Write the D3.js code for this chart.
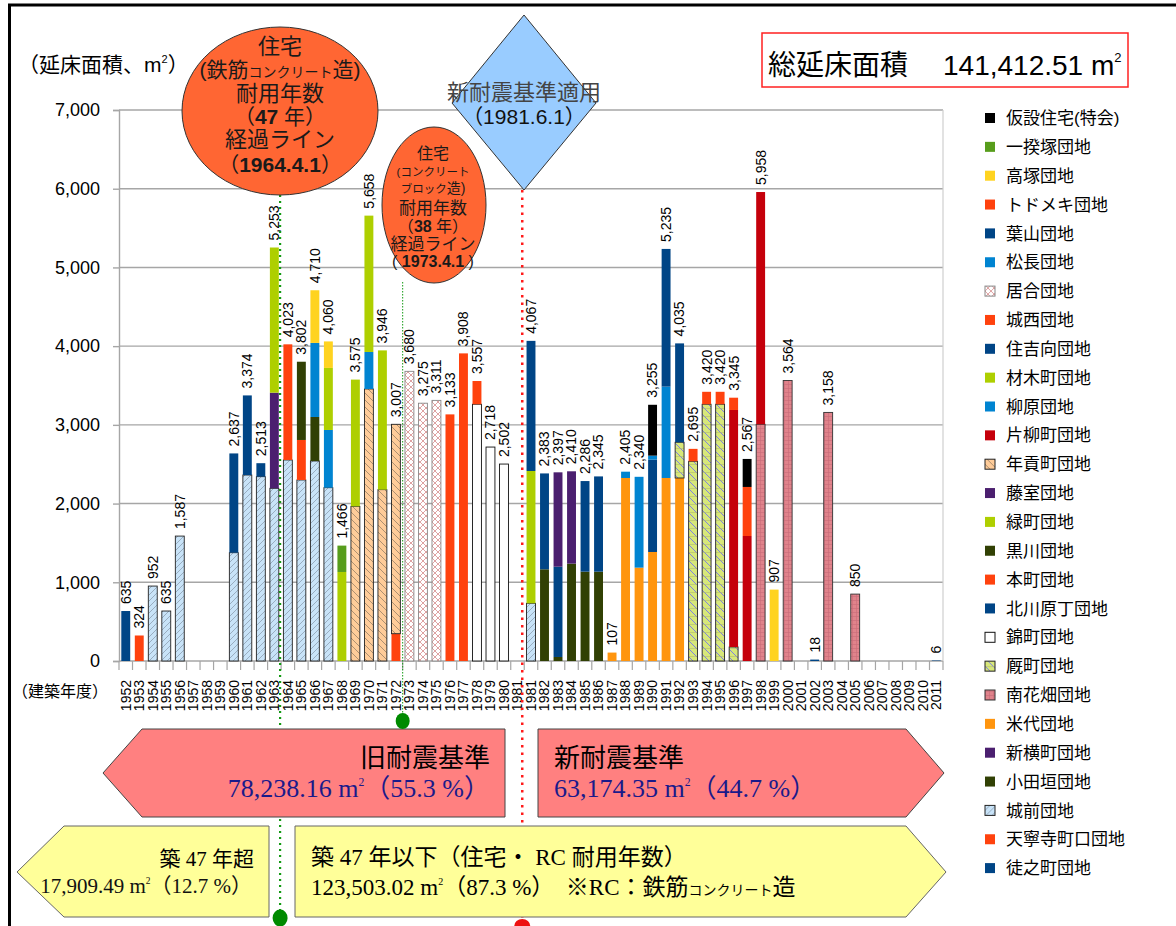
<!DOCTYPE html>
<html>
<head>
<meta charset="utf-8">
<script src="https://cdn.jsdelivr.net/npm/d3@7"></script>
<style>
body { margin: 0; background: #fff; }
svg { display: block; }
text { font-family: "Liberation Sans", "Noto Sans CJK JP", sans-serif; }
.serif { font-family: "Liberation Serif", "Noto Sans CJK JP", serif; }
</style>
</head>
<body>
<div id="chart"></div>
<script>
// categories: 1981 appears twice (before / after 1981.6.1)
var categories = ["1952","1953","1954","1955","1956","1957","1958","1959","1960","1961",
  "1962","1963","1964","1965","1966","1967","1968","1969","1970","1971",
  "1972","1973","1974","1975","1976","1977","1978","1979","1980","1981",
  "1981新","1982","1983","1984","1985","1986","1987","1988","1989","1990",
  "1991","1992","1993","1994","1995","1996","1997","1998","1999","2000",
  "2001","2002","2003","2004","2005","2006","2007","2008","2009","2010","2011"];

var yTicks = [0, 1000, 2000, 3000, 4000, 5000, 6000, 7000];

// each series: [category, 延床面積]
var tonomachi = [["1952", 635]];
var tenneiji = [["1953", 324]];
var jozen = [["1954", 952], ["1955", 635], ["1956", 1587], ["1960", 1376], ["1961", 2363], ["1962", 2342],
  ["1963", 2194], ["1964", 2554], ["1965", 2300], ["1966", 2541], ["1967", 2202], ["1981新", 733]];
var odagaki = [["1982", 1165], ["1983", 51], ["1984", 1237], ["1985", 1135], ["1986", 1135]];
var shinyoko = [["1963", 1215]];
var yoneshiro = [["1987", 107], ["1988", 2325], ["1989", 1186], ["1990", 1385], ["1991", 2325], ["1992", 2325]];
var minamihanabatake = [["1998", 3007], ["2000", 3564], ["2003", 3158], ["2005", 850]];
var umaya = [["1992", 454], ["1993", 2537], ["1994", 3262], ["1995", 3262], ["1996", 178]];
var nishiki = [["1978", 3262], ["1979", 2718], ["1980", 2502]];
var kitakawara = [["1960", 1261], ["1961", 1011], ["1962", 171], ["1982", 1218], ["1983", 1147], ["1985", 1151], ["1986", 1210]];
var honmachi = [["1964", 1469], ["1965", 508], ["1972", 347]];
var kurokawa = [["1965", 994], ["1966", 559]];
var midori = [["1963", 1844], ["1981新", 1681]];
var fujimuro = [["1983", 1199], ["1984", 1173]];
var nengu = [["1969", 1965], ["1970", 3456], ["1971", 2177], ["1972", 2660]];
var katayanagi = [["1996", 3011], ["1997", 1588], ["1998", 2951]];
var yanagihara = [["1966", 941], ["1967", 733], ["1970", 470]];
var zaimoku = [["1967", 788], ["1968", 1131], ["1969", 1610], ["1970", 1732], ["1971", 1769]];
var sumiyoshi = [["1981新", 1653], ["1990", 1173]];
var josai = [["1976", 3133], ["1977", 3908], ["1978", 295]];
var iai = [["1973", 3680], ["1974", 3275], ["1975", 3311]];
var matsunaga = [["1988", 80], ["1989", 1154], ["1990", 51], ["1991", 1161]];
var hayama = [["1991", 1749], ["1992", 1256], ["2002", 18], ["2011", 6]];
var todomeki = [["1993", 158], ["1994", 158], ["1995", 158], ["1996", 156], ["1997", 623]];
var takatsuka = [["1966", 669], ["1967", 337], ["1999", 907]];
var ikkizuka = [["1968", 335]];
var kasetsu = [["1990", 646], ["1997", 356]];

// stacking order, bottom first
var seriesNames = ["徒之町団地","天寧寺町口団地","城前団地","小田垣団地","新横町団地","米代団地","南花畑団地",
  "厩町団地","錦町団地","北川原丁団地","本町団地","黒川団地","緑町団地","藤室団地","年貢町団地","片柳町団地",
  "柳原団地","材木町団地","住吉向団地","城西団地","居合団地","松長団地","葉山団地","トドメキ団地","高塚団地",
  "一揆塚団地","仮設住宅(特会)"];
var seriesData = [tonomachi, tenneiji, jozen, odagaki, shinyoko, yoneshiro, minamihanabatake,
  umaya, nishiki, kitakawara, honmachi, kurokawa, midori, fujimuro, nengu, katayanagi,
  yanagihara, zaimoku, sumiyoshi, josai, iai, matsunaga, hayama, todomeki, takatsuka,
  ikkizuka, kasetsu];

var seriesFill = ["#004586","#ff420e","url(#p-jozen)","#314004","#4b1f6f","#ff950e","url(#p-minami)",
  "url(#p-umaya)","#ffffff","#004586","#ff420e","#314004","#aecf00","#4b1f6f","url(#p-nengu)","#c5000b",
  "#0084d1","#aecf00","#004586","#ff420e","url(#p-iai)","#0084d1","#004586","#ff420e","#ffd320",
  "#579d1c","#000000"];
var seriesStroke = [null,null,"#222",null,null,null,"#333","#222","#111",null,null,null,null,null,"#222",null,
  null,null,null,null,"#888",null,null,null,null,null,null];

var table = categories.map(function(c) {
  var row = { cat: c };
  seriesNames.forEach(function(n, i) {
    var hit = seriesData[i].find(function(p) { return p[0] === c; });
    row[n] = hit ? hit[1] : 0;
  });
  return row;
});
var stacked = d3.stack().keys(seriesNames)(table);

var svg = d3.select("#chart").append("svg")
  .attr("width", 1176)
  .attr("height", 926);

// patterns
var defs = svg.append("defs");
function pattern(id, size, bg, path, color, w) {
  var p = defs.append("pattern").attr("id", id)
    .attr("patternUnits", "userSpaceOnUse")
    .attr("width", size).attr("height", size);
  p.append("rect").attr("width", size).attr("height", size).attr("fill", bg);
  p.append("path").attr("d", path).attr("stroke", color).attr("stroke-width", w).attr("fill", "none");
  return p;
}
pattern("p-jozen", 6, "#c8e3f8", "M0,6L6,0M-1,1L1,-1M5,7L7,5", "#8595a8", 0.7);
pattern("p-nengu", 7, "#ffcc99", "M0,0L7,7M-1,6L1,8M6,-1L8,1", "#8a7560", 0.7);
pattern("p-iai", 6, "#ffffff", "M0,0L6,6M0,6L6,0", "#d58a8a", 0.8);
pattern("p-umaya", 8, "#d7e77a", "M0,0L8,8M-1,7L1,9M7,-1L9,1", "#7575ee", 0.9)
  .append("path").attr("d", "M0,0.5L8,0.5").attr("stroke", "#a8b070").attr("stroke-width", 0.5);
pattern("p-minami", 4, "#e0838b", "M0,0.5L4,0.5M0.5,0L0.5,4", "#c96c78", 0.6);

var x = d3.scaleBand().domain(categories).range([119, 943]).paddingInner(0.34).paddingOuter(0.17);
var y = d3.scaleLinear().domain([0, 7000]).range([661, 110]);
var half = (x.step() - x.bandwidth()) / 2;
function boundary(c) { return x(c) - half; }

// grid
svg.append("g").selectAll("line").data(yTicks).enter().append("line")
  .attr("x1", 119).attr("x2", 943)
  .attr("y1", function(d) { return y(d); }).attr("y2", function(d) { return y(d); })
  .attr("stroke", "#a6a6a6").attr("stroke-width", 1.4);
svg.append("line").attr("x1", 943).attr("x2", 943).attr("y1", 110).attr("y2", 661)
  .attr("stroke", "#cfcfcf").attr("stroke-width", 1.2);

// y axis
var yAxis = svg.append("g").attr("transform", "translate(119,0)")
  .call(d3.axisLeft(y).tickValues(yTicks).tickFormat(d3.format(",")).tickSize(6).tickPadding(13));
yAxis.select(".domain").attr("stroke", "#a6a6a6").attr("stroke-width", 1.4);
yAxis.selectAll(".tick line").attr("stroke", "#a6a6a6").attr("stroke-width", 1.4);
yAxis.selectAll("text").attr("font-size", 18).attr("fill", "#000")
  .attr("font-family", "Liberation Sans, sans-serif");

// x axis
var xAxis = svg.append("g").attr("transform", "translate(0,661)")
  .call(d3.axisBottom(x).tickSize(0).tickFormat(function(d) { return d.slice(0, 4); }));
xAxis.select(".domain").remove();
xAxis.selectAll("text")
  .attr("transform", "rotate(-90)")
  .attr("text-anchor", "end")
  .attr("x", -19).attr("y", 0).attr("dy", ".35em")
  .attr("font-size", 14).attr("fill", "#000")
  .attr("font-family", "Liberation Sans, sans-serif");
svg.append("g").selectAll("line").data(categories.concat(["end"])).enter().append("line")
  .attr("x1", function(d) { return d === "end" ? 943 : boundary(d); })
  .attr("x2", function(d) { return d === "end" ? 943 : boundary(d); })
  .attr("y1", 661).attr("y2", 670)
  .attr("stroke", "#a6a6a6").attr("stroke-width", 1.2);

// bars
var layers = svg.append("g").selectAll("g").data(stacked).enter().append("g");
layers.selectAll("rect")
  .data(function(layer) {
    return layer.filter(function(d) { return d[1] - d[0] > 0; })
      .map(function(d) { return { d: d, i: layer.index }; });
  })
  .enter().append("rect")
  .attr("x", function(o) { return x(o.d.data.cat); })
  .attr("width", x.bandwidth())
  .attr("y", function(o) { return y(o.d[1]); })
  .attr("height", function(o) { return y(o.d[0]) - y(o.d[1]); })
  .attr("fill", function(o) { return seriesFill[o.i]; })
  .attr("stroke", function(o) { return seriesStroke[o.i] || "none"; })
  .attr("stroke-width", 0.9);

// totals
var totals = table.map(function(r) {
  return { cat: r.cat, v: d3.sum(seriesNames, function(n) { return r[n]; }) };
}).filter(function(t) { return t.v > 0; });
svg.append("g").selectAll("text").data(totals).enter().append("text")
  .attr("transform", function(t) {
    return "translate(" + (x(t.cat) + x.bandwidth() / 2) + "," + (y(t.v) - 7) + ") rotate(-90)";
  })
  .attr("dy", ".35em")
  .attr("font-size", 14)
  .attr("font-family", "Liberation Sans, sans-serif")
  .text(function(t) { return d3.format(",")(t.v); });

// axis titles
svg.append("text").attr("x", 18).attr("y", 72).attr("font-size", 21)
  .html('（延床面積、m<tspan dy="-9" font-size="11">2</tspan><tspan dy="9">）</tspan>');
svg.append("text").attr("x", 12).attr("y", 697).attr("font-size", 16).text("（建築年度）");

// reference lines
var g1 = boundary("1964") - 1, g2 = boundary("1973"), r1 = boundary("1981新") - 2;
svg.append("line").attr("x1", g1).attr("x2", g1).attr("y1", 195).attr("y2", 912)
  .attr("stroke", "#139a13").attr("stroke-width", 2.2).attr("stroke-dasharray", "2,4");
svg.append("line").attr("x1", g2).attr("x2", g2).attr("y1", 282).attr("y2", 714)
  .attr("stroke", "#139a13").attr("stroke-width", 1).attr("stroke-dasharray", "1.5,1.5");
svg.append("line").attr("x1", r1).attr("x2", r1).attr("y1", 190).attr("y2", 918)
  .attr("stroke", "#ff1a1a").attr("stroke-width", 2.5).attr("stroke-dasharray", "2.5,5");

// ellipse 1 (RC 47 years)
svg.append("ellipse").attr("cx", 280).attr("cy", 111).attr("rx", 98).attr("ry", 84)
  .attr("fill", "#ff6633").attr("stroke", "#333").attr("stroke-width", 1);
var e1 = svg.append("g").attr("text-anchor", "middle").attr("fill", "#1a1a1a");
e1.append("text").attr("x", 280).attr("y", 54).attr("font-size", 22).text("住宅");
e1.append("text").attr("x", 280).attr("y", 77).attr("font-size", 21)
  .html('(鉄筋<tspan font-size="14">コンクリート</tspan>造)');
e1.append("text").attr("x", 280).attr("y", 101).attr("font-size", 22).text("耐用年数");
e1.append("text").attr("x", 280).attr("y", 124).attr("font-size", 21)
  .html('（<tspan font-weight="bold">47</tspan> 年）');
e1.append("text").attr("x", 280).attr("y", 147).attr("font-size", 22).text("経過ライン");
e1.append("text").attr("x", 280).attr("y", 172).attr("font-size", 21)
  .html('（<tspan font-weight="bold">1964.4.1</tspan>）');

// ellipse 2 (CB 38 years)
svg.append("ellipse").attr("cx", 434).attr("cy", 205).attr("rx", 52).attr("ry", 78)
  .attr("fill", "#ff6633").attr("stroke", "#333").attr("stroke-width", 1);
var e2 = svg.append("g").attr("text-anchor", "middle").attr("fill", "#1a1a1a");
e2.append("text").attr("x", 433).attr("y", 159).attr("font-size", 16).text("住宅");
e2.append("text").attr("x", 433).attr("y", 176).attr("font-size", 11.5).text("(コンクリート");
e2.append("text").attr("x", 433).attr("y", 193).attr("font-size", 11.5)
  .html('ブロック<tspan font-size="14">造)</tspan>');
e2.append("text").attr("x", 433).attr("y", 214).attr("font-size", 17).text("耐用年数");
e2.append("text").attr("x", 433).attr("y", 232).attr("font-size", 16)
  .html('（<tspan font-weight="bold">38</tspan> 年）');
e2.append("text").attr("x", 433).attr("y", 250).attr("font-size", 17).text("経過ライン");
e2.append("text").attr("x", 433).attr("y", 267).attr("font-size", 16)
  .html('(<tspan font-weight="bold"> 1973.4.1 </tspan>)');

// diamond (1981.6.1)
svg.append("polygon").attr("points", "524,15 596,103 524,190 452,103")
  .attr("fill", "#99ccff").attr("stroke", "#333").attr("stroke-width", 1);
svg.append("text").attr("x", 524).attr("y", 100).attr("text-anchor", "middle")
  .attr("font-size", 22).attr("fill", "#444").text("新耐震基準適用");
svg.append("text").attr("x", 524).attr("y", 124).attr("text-anchor", "middle")
  .attr("font-size", 21).attr("fill", "#111").text("（1981.6.1）");

// total box
svg.append("rect").attr("x", 762).attr("y", 33).attr("width", 366).attr("height", 54)
  .attr("fill", "#fff").attr("stroke", "#ff2020").attr("stroke-width", 1.5);
svg.append("text").attr("x", 768).attr("y", 75).attr("font-size", 28).text("総延床面積");
svg.append("text").attr("x", 943).attr("y", 75).attr("font-size", 28)
  .html('141,412.51 m<tspan dy="-13" font-size="13">2</tspan>');

// bottom arrow boxes
svg.append("polygon").attr("points", "103,773 142,729 505,729 505,817 142,817")
  .attr("fill", "#ff8080").attr("stroke", "#444").attr("stroke-width", 1);
svg.append("polygon").attr("points", "538,729 906,729 944,773 906,817 538,817")
  .attr("fill", "#ff8080").attr("stroke", "#444").attr("stroke-width", 1);
svg.append("polygon").attr("points", "17,872 64,826 269,826 269,917 64,917")
  .attr("fill", "#ffff99").attr("stroke", "#666").attr("stroke-width", 1);
svg.append("polygon").attr("points", "295,826 906,826 946,872 906,917 295,917")
  .attr("fill", "#ffff99").attr("stroke", "#666").attr("stroke-width", 1);

function areaText(xp, yp, anchor, size, color, num, pct) {
  svg.append("text").attr("class", "serif").attr("x", xp).attr("y", yp)
    .attr("text-anchor", anchor).attr("font-size", size).attr("fill", color)
    .html(num + ' m<tspan dy="' + (-size * 0.42) + '" font-size="' + (size * 0.45) + '">2</tspan>'
      + '<tspan dy="' + (size * 0.42) + '">（' + pct + ' %）</tspan>');
}
svg.append("text").attr("class", "serif").attr("x", 490).attr("y", 767)
  .attr("text-anchor", "end").attr("font-size", 26).text("旧耐震基準");
areaText(490, 797, "end", 26, "#1a1a8a", "78,238.16", "55.3");
svg.append("text").attr("class", "serif").attr("x", 554).attr("y", 767)
  .attr("font-size", 26).text("新耐震基準");
areaText(554, 797, "start", 26, "#1a1a8a", "63,174.35", "44.7");
svg.append("text").attr("class", "serif").attr("x", 254).attr("y", 866)
  .attr("text-anchor", "end").attr("font-size", 21).text("築 47 年超");
areaText(252, 893, "end", 21, "#111", "17,909.49", "12.7");
svg.append("text").attr("class", "serif").attr("x", 311).attr("y", 865)
  .attr("font-size", 23).text("築 47 年以下（住宅・ RC 耐用年数）");
svg.append("text").attr("class", "serif").attr("x", 311).attr("y", 895).attr("font-size", 23)
  .html('123,503.02 m<tspan dy="-10" font-size="10">2</tspan><tspan dy="10">（87.3 %）　※RC：鉄筋</tspan>'
    + '<tspan font-size="14">コンクリート</tspan>造');

// markers at line ends
svg.append("ellipse").attr("cx", g2).attr("cy", 721).attr("rx", 7).attr("ry", 8).attr("fill", "#008a00");
svg.append("ellipse").attr("cx", g1).attr("cy", 918).attr("rx", 7.5).attr("ry", 8.5).attr("fill", "#008a00");
svg.append("ellipse").attr("cx", r1).attr("cy", 926).attr("rx", 8).attr("ry", 7).attr("fill", "#ee1111");

// legend (top of stack first)
var legendNames = seriesNames.map(function(n, i) { return i; }).reverse();
var legend = svg.append("g").selectAll("g").data(legendNames).enter().append("g")
  .attr("transform", function(d, k) { return "translate(985," + (118 + k * 28.85) + ")"; });
legend.append("rect").attr("x", 0).attr("y", -5).attr("width", 10).attr("height", 10)
  .attr("fill", function(i) { return seriesFill[i]; })
  .attr("stroke", function(i) { return seriesStroke[i] || "none"; })
  .attr("stroke-width", 1);
legend.append("text").attr("x", 21).attr("dy", ".36em").attr("font-size", 17)
  .text(function(i) { return seriesNames[i]; });

// outer frame
svg.append("line").attr("x1", 8).attr("x2", 1176).attr("y1", 5).attr("y2", 5)
  .attr("stroke", "#000").attr("stroke-width", 3);
svg.append("line").attr("x1", 9.5).attr("x2", 9.5).attr("y1", 4).attr("y2", 926)
  .attr("stroke", "#000").attr("stroke-width", 3);
</script>
</body>
</html>
